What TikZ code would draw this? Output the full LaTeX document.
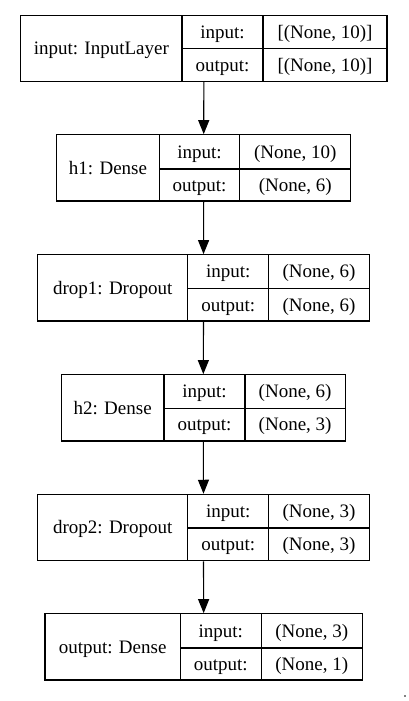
\documentclass[tikz,border=0pt]{standalone}
\usepackage{fontspec}
\setmainfont{Liberation Serif}
\usetikzlibrary{arrows.meta}
% rectangle cell from (x0,y0) to (x1,y1): #1 style, #2 name, #3 x0, #4 y0, #5 x1, #6 y1, text follows
\newcommand\rcell[7]{%
  \node[#1, minimum width={(#5-#3)*1pt}, minimum height={(#6-#4)*1pt}] (#2) at ({(#3+#5)/2},{(#4+#6)/2}) {#7};
}
% #1 name, #2 top, #3 mid, #4 bottom, #5 x0, #6 x1, #7 x2, #8 x3, #9 label
\newcommand\layerbox[9]{%
  \coordinate (#1-a) at (#7,#2);
  \coordinate (#1-b) at (#8,#3);
  \coordinate (#1-d) at (#8,#4);
  \rcell{boxst}{#1}{#5}{#2}{#8}{#4}{}
  \rcell{cellst}{#1-l}{#5}{#2}{#6}{#4}{#9}
  \rcell{cellst}{#1-ki}{#6}{#2}{#7}{#3}{input:}
  \rcell{cellst}{#1-ko}{#6}{#3}{#7}{#4}{output:}
  \def\vtop{#2}\def\vmid{#3}\def\vbot{#4}\def\vxa{#7}\def\vxb{#8}%
}
\newcommand\layervals[3]{%
  \rcell{cellst}{#1-vi}{\vxa}{\vtop}{\vxb}{\vmid}{#2}
  \rcell{cellst}{#1-vo}{\vxa}{\vmid}{\vxb}{\vbot}{#3}
}
\begin{document}
\begin{tikzpicture}[x=1pt,y=-1pt,
  cellst/.style={draw, line width=1.1pt, inner sep=0pt, font=\fontsize{19}{22}\selectfont, text height=12.5pt, text depth=0pt},
  boxst/.style={draw, line width=1.1pt, inner sep=0pt},
  flow/.style={line width=1.1pt, -{Triangle[length=14pt,width=11pt]}}]
\useasboundingbox[fill=white] (0,0) rectangle (408,701);
\layerbox{L1}{15.3}{48.7}{81.3}{20.7}{182}{263}{387}{input: InputLayer}
\layervals{L1}{[(None, 10)]}{[(None, 10)]}
\layerbox{L2}{134.7}{169}{201}{56.7}{159.3}{239.7}{350.7}{h1: Dense}
\layervals{L2}{(None, 10)}{(None, 6)}
\layerbox{L3}{254.7}{288.7}{321}{37.7}{187.7}{268.7}{369.3}{drop1: Dropout}
\layervals{L3}{(None, 6)}{(None, 6)}
\layerbox{L4}{374.7}{408.3}{441}{61.3}{164}{245}{345.3}{h2: Dense}
\layervals{L4}{(None, 6)}{(None, 3)}
\layerbox{L5}{494.3}{528}{560.7}{37.7}{187.7}{268.7}{369.3}{drop2: Dropout}
\layervals{L5}{(None, 3)}{(None, 3)}
\layerbox{L6}{613.7}{648}{680}{45}{180.3}{261.3}{362.3}{output: Dense}
\layervals{L6}{(None, 3)}{(None, 1)}
\draw[flow] (L1.south) -- (L2.north);
\draw[flow] (L2.south) -- (L3.north);
\draw[flow] (L3.south) -- (L4.north);
\draw[flow] (L4.south) -- (L5.north);
\draw[flow] (L5.south) -- (L6.north);
\fill (405,696) circle (0.8);
\end{tikzpicture}
\end{document}
